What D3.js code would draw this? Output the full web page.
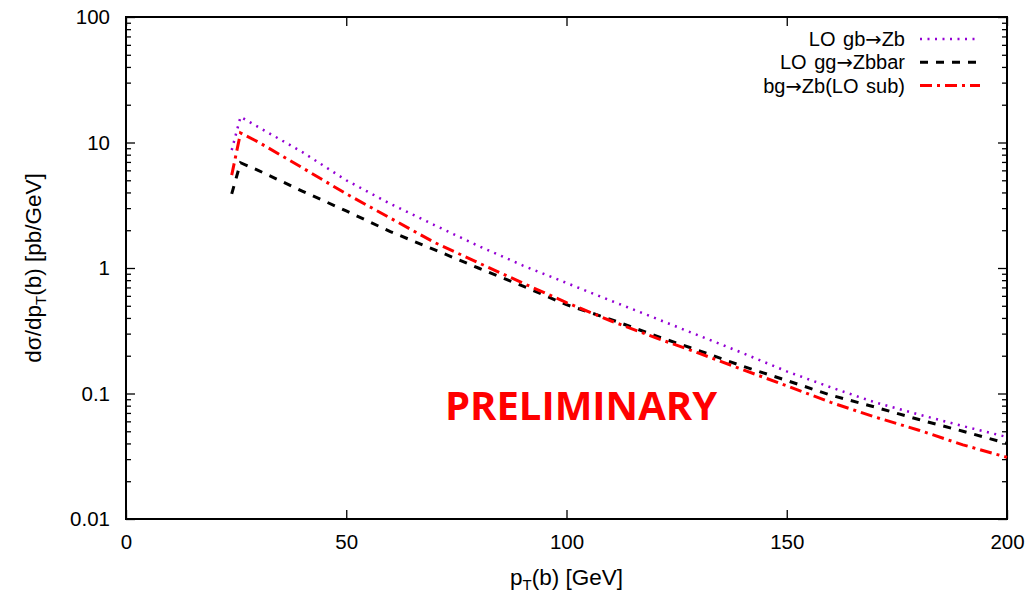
<!DOCTYPE html>
<html>
<head>
<meta charset="utf-8">
<script src="https://cdn.jsdelivr.net/npm/d3@7"></script>
<style>
  body { margin: 0; background: #fff; }
  svg text { font-family: "Liberation Sans", Arial, sans-serif; }
</style>
</head>
<body>
<svg></svg>
<script>
const width = 1033;
const height = 594;

// pT(b) bins in GeV
const pt = [24, 26, 30, 40, 50, 60, 70, 80, 90, 100, 110, 120, 130, 140, 150, 160, 170, 180, 190, 200];

// dsigma/dpT in pb/GeV
const gbZb = [8.7, 16, 13.3, 8.4, 5.0, 3.25, 2.2, 1.5, 1.05, 0.76, 0.55, 0.40, 0.29, 0.21, 0.15, 0.112, 0.085, 0.068, 0.055, 0.045];
const ggZbbar = [3.9, 6.9, 6.0, 4.1, 2.85, 1.95, 1.4, 1.0, 0.72, 0.51, 0.39, 0.29, 0.22, 0.165, 0.127, 0.097, 0.078, 0.062, 0.05, 0.040];
const bgZbSub = [5.5, 11.9, 10.1, 6.3, 3.9, 2.5, 1.6, 1.1, 0.76, 0.53, 0.38, 0.28, 0.21, 0.155, 0.115, 0.085, 0.065, 0.051, 0.039, 0.031];

const xTicks = [0, 50, 100, 150, 200];
const yTicks = [0.01, 0.1, 1, 10, 100];

const series = [
  { pre: 'LO gb', post: 'Zb', values: gbZb, color: '#9400d3', width: 2.5, dash: '2,5.5' },
  { pre: 'LO gg', post: 'Zbbar', values: ggZbbar, color: '#000', width: 3, dash: '8,8' },
  { pre: 'bg', post: 'Zb(LO sub)', values: bgZbSub, color: '#ff0000', width: 3, dash: '12,5,3,5' }
];

const margin = { left: 126, right: 26, top: 17, bottom: 75 };

const svg = d3.select('svg')
  .attr('width', width)
  .attr('height', height);

const x = d3.scaleLinear().domain([0, 200]).range([margin.left, width - margin.right]);
const y = d3.scaleLog().domain([0.01, 100]).range([height - margin.bottom, margin.top]);

const minorY = [];
for (let e = -2; e < 2; e++) {
  for (let k = 2; k <= 9; k++) minorY.push(k * Math.pow(10, e));
}

// ticks, pointing inward on all four sides
const axes = svg.append('g');
axes.append('g')
  .attr('transform', `translate(0,${y(0.01)})`)
  .call(d3.axisBottom(x).tickValues(xTicks).tickSize(-9).tickPadding(15).tickFormat(d3.format('d')));
axes.append('g')
  .attr('transform', `translate(0,${y(100)})`)
  .call(d3.axisTop(x).tickValues(xTicks).tickSize(-9).tickFormat(''));
axes.append('g')
  .attr('transform', `translate(${x(0)},0)`)
  .call(d3.axisLeft(y).tickValues(yTicks).tickSize(-9).tickPadding(16).tickFormat(d => d >= 1 ? d3.format('d')(d) : String(d)));
axes.append('g')
  .attr('transform', `translate(${x(0)},0)`)
  .call(d3.axisLeft(y).tickValues(minorY).tickSize(-5).tickFormat(''));
axes.append('g')
  .attr('transform', `translate(${x(200)},0)`)
  .call(d3.axisRight(y).tickValues(yTicks).tickSize(-9).tickFormat(''));
axes.append('g')
  .attr('transform', `translate(${x(200)},0)`)
  .call(d3.axisRight(y).tickValues(minorY).tickSize(-5).tickFormat(''));

axes.selectAll('.domain').remove();
axes.selectAll('line').attr('stroke', '#000').attr('stroke-width', 1.3);
axes.selectAll('text').attr('font-size', 20.5).attr('fill', '#000')
  .style('font-family', '"Liberation Sans", Arial, sans-serif');

svg.append('rect')
  .attr('x', x(0)).attr('y', y(100))
  .attr('width', x(200) - x(0)).attr('height', y(0.01) - y(100))
  .attr('fill', 'none').attr('stroke', '#000').attr('stroke-width', 2);

const line = d3.line()
  .x((d, i) => x(pt[i]))
  .y(d => y(d));

svg.append('g').selectAll('path')
  .data(series)
  .enter().append('path')
    .attr('d', s => line(s.values))
    .attr('fill', 'none')
    .attr('stroke', s => s.color)
    .attr('stroke-width', s => s.width)
    .attr('stroke-dasharray', s => s.dash);

// legend
const legend = svg.append('g').selectAll('g')
  .data(series)
  .enter().append('g')
    .attr('transform', (s, i) => `translate(0,${39 + i * 23.3})`);
const lt = legend.append('text')
  .attr('x', 905).attr('y', 7)
  .attr('text-anchor', 'end')
  .attr('font-size', 20)
  .attr('word-spacing', 2);
lt.append('tspan').text(s => s.pre);
lt.append('tspan').style('font-family', '"DejaVu Sans", sans-serif').attr('font-size', 19.5).text('\u2192');
lt.append('tspan').text(s => s.post);
legend.append('line')
  .attr('x1', 920).attr('x2', 980)
  .attr('stroke', s => s.color)
  .attr('stroke-width', s => s.width)
  .attr('stroke-dasharray', s => s.dash);

// axis titles
svg.append('text')
  .attr('x', (x(0) + x(200)) / 2).attr('y', 585)
  .attr('text-anchor', 'middle').attr('font-size', 22.5)
  .html('p<tspan font-size="15" dy="5">T</tspan><tspan dy="-5">(b) [GeV]</tspan>');

svg.append('text')
  .attr('transform', `translate(41,${(y(100) + y(0.01)) / 2}) rotate(-90)`)
  .attr('text-anchor', 'middle').attr('font-size', 22.5)
  .html('d\u03c3/dp<tspan font-size="15" dy="5">T</tspan><tspan dy="-5">(b) [pb/GeV]</tspan>');

svg.append('text')
  .attr('x', 581).attr('y', 420)
  .attr('text-anchor', 'middle')
  .attr('font-size', 40).attr('font-weight', 'bold')
  .attr('fill', '#ff0000')
  .style('font-family', '"Open Sans", sans-serif')
  .text('PRELIMINARY');
</script>
</body>
</html>
